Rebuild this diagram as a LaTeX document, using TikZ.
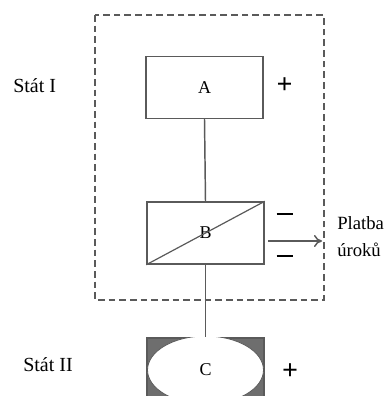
\documentclass[tikz,border=0pt]{standalone}
\usepackage{fontspec}
\setmainfont{Liberation Serif}
\usetikzlibrary{arrows.meta,shapes.geometric}
\definecolor{edge}{HTML}{5A5A5A}
\definecolor{fillgrey}{HTML}{6E6E6E}
\begin{document}
\begin{tikzpicture}[x=0.75pt,y=-0.75pt,
  blockbox/.style={draw=edge,line width=1.1pt,fill=white,minimum width=87.75pt,minimum height=46.5pt,inner sep=0pt,font=\fontsize{13.5}{15}\selectfont},
  conn/.style={draw=edge,line width=1.1pt},
  lbl/.style={font=\fontsize{15}{17}\selectfont,inner sep=0pt},
  sidelbl/.style={font=\fontsize{14}{16}\selectfont,inner sep=0pt},
  sign/.style={font=\fontsize{21}{21}\selectfont\bfseries,inner sep=0pt},
  minusbar/.style={line width=1.7pt,black}]
\useasboundingbox (0,0) rectangle (389,396);
\fill[white] (0,0) rectangle (389,396);
% dashed frame
\draw[edge,line width=1.2pt,dash pattern=on 5pt off 3pt] (95,15) rectangle (324,300);
% nodes
\node[blockbox] (A) at (204.5,87.5) {A};
\node[blockbox] (B) at (205.5,233) {B};
\draw[edge,line width=0.9pt] (B.south west) -- (B.north east);
\node[draw=edge,line width=1.1pt,fill=fillgrey,minimum width=87.75pt,minimum height=51pt,inner sep=0pt] (Cbox) at (205.5,372) {};
\begin{scope}
\clip (Cbox.south west) rectangle (Cbox.north east);
\node[ellipse,draw=edge,line width=0.6pt,fill=white,minimum width=87pt,minimum height=51pt,inner sep=0pt,font=\fontsize{13.5}{15}\selectfont] (C) at (205.5,370) {C};
\end{scope}
% connectors
\draw[conn] (A.south) -- (B.north);
\draw[conn] (B.south) -- (Cbox.north);
\coordinate (Bout) at (268,241);
\coordinate (Pt) at (322,241);
\draw[conn,-{To[length=6pt,width=9pt]}] (Bout) -- (Pt);
% signs
\node[sign] (plusA) at (284.5,86) {+};
\node[sign] (plusC) at (290,372) {+};
\coordinate (m1a) at (276.5,214); \coordinate (m1b) at (293,214);
\coordinate (m2a) at (276.5,256); \coordinate (m2b) at (293,256);
\draw[minusbar] (m1a) -- (m1b);
\draw[minusbar] (m2a) -- (m2b);
% labels
\node[lbl,anchor=west] (stat1) at (13,86) {Stát I};
\node[lbl,anchor=west] (stat2) at (23,365) {Stát II};
\node[sidelbl,anchor=west] (platba) at (337,223) {Platba};
\node[sidelbl,anchor=west] (uroku) at (337,250) {úroků};
\end{tikzpicture}
\end{document}
